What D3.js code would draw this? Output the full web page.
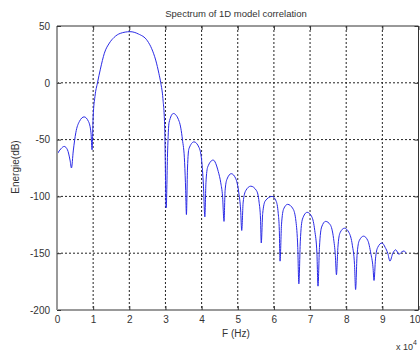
<!DOCTYPE html>
<html><head><meta charset="utf-8">
<script src="https://cdn.jsdelivr.net/npm/d3@7"></script>
<style>body{margin:0;background:#fff}svg{display:block}text{font-family:"Liberation Sans",Arial,sans-serif}</style>
</head><body><svg id="c" width="420" height="356"></svg>
<script>
const title = "Spectrum of 1D model correlation";
const xLabel = "F (Hz)";
const yLabel = "Energie(dB)";
const xTicks = [0,1,2,3,4,5,6,7,8,9,10];
const yTicks = [50,0,-50,-100,-150,-200];
// frequency in units of 1e4 Hz
const freq = [0.00,0.06,0.11,0.20,0.29,0.36,0.40,0.45,0.52,0.62,0.75,0.87,0.94,0.97,
  1.00,1.05,1.12,1.20,1.31,1.45,1.58,1.75,2.02,2.25,2.50,2.62,2.73,2.82,2.87,2.93,2.98,3.02,
  3.06,3.10,3.22,3.38,3.47,3.53,3.56,3.58,
  3.61,3.65,3.79,3.93,4.00,4.05,4.09,
  4.12,4.17,4.32,4.46,4.53,4.58,4.62,
  4.65,4.70,4.82,4.94,5.03,5.08,5.11,
  5.15,5.22,5.36,5.52,5.59,5.63,5.65,
  5.69,5.76,5.95,6.06,6.12,6.15,6.17,
  6.21,6.27,6.38,6.53,6.61,6.66,6.69,
  6.73,6.79,6.92,7.05,7.13,7.19,7.22,
  7.26,7.32,7.43,7.56,7.65,7.70,7.73,
  7.77,7.83,7.95,8.08,8.17,8.23,8.26,
  8.30,8.36,8.48,8.60,8.68,8.74,8.77,
  8.81,8.87,8.99,9.08,9.15,9.21,
  9.29,9.37,9.46,9.53,9.60,9.65];
const energy = [-63,-60,-58,-56,-59,-68,-75,-60,-44,-34,-30,-34,-44,-59,
  -30,-12,0,12,26,35,40,43.5,45,43,37,30,20,8,0,-14,-40,-110,
  -60,-35,-27,-34,-50,-70,-95,-116,
  -75,-58,-52,-57,-68,-90,-118,
  -88,-74,-68,-78,-88,-100,-122,
  -95,-85,-80,-84,-97,-112,-130,
  -105,-95,-91,-95,-105,-120,-141,
  -115,-104,-100,-104,-115,-130,-157,
  -125,-111,-107,-111,-122,-145,-177,
  -140,-120,-114,-118,-130,-150,-179,
  -145,-127,-122,-125,-137,-152,-169,
  -145,-132,-128,-132,-143,-160,-182,
  -152,-139,-135,-139,-150,-162,-174,
  -155,-145,-141,-145,-150,-157,
  -150,-147,-151,-149,-148,-150];

const svg = d3.select("#c");
svg.append("rect").attr("width",420).attr("height",356).attr("fill","#fff");
const L=57, R=418.5, T=26, B=310;
const x = d3.scaleLinear().domain([0,10]).range([L,R]);
const y = d3.scaleLinear().domain([-200,50]).range([B,T]);

// grid
const g = svg.append("g");
g.selectAll("line.vg").data(xTicks.slice(1,-1)).join("line")
  .attr("x1",d=>x(d)).attr("x2",d=>x(d)).attr("y1",T).attr("y2",B)
  .attr("stroke","#222").attr("stroke-width",1).attr("stroke-dasharray","2,2");
g.selectAll("line.hg").data(yTicks.slice(1,-1)).join("line")
  .attr("x1",L).attr("x2",R).attr("y1",d=>y(d)).attr("y2",d=>y(d))
  .attr("stroke","#222").attr("stroke-width",1).attr("stroke-dasharray","2,2");

// data line
const pts = freq.map((f,i)=>[f,energy[i]]);
svg.append("path").datum(pts)
  .attr("d", d3.line().x(d=>x(d[0])).y(d=>y(d[1])).curve(d3.curveMonotoneX))
  .attr("fill","none").attr("stroke","#2a2ae6").attr("stroke-width",1);

// axes
const fmt = d => String(d);
const axB = d3.axisBottom(x).tickValues(xTicks).tickSize(-4).tickPadding(6).tickFormat(fmt);
const axT = d3.axisTop(x).tickValues(xTicks).tickSize(-4).tickFormat("");
const axL = d3.axisLeft(y).tickValues(yTicks).tickSize(-4).tickPadding(7).tickFormat(fmt);
const axR = d3.axisRight(y).tickValues(yTicks).tickSize(-4).tickFormat("");
function style(sel, col, w){
  sel.select(".domain").attr("stroke",col).attr("stroke-width",w);
  sel.selectAll(".tick line").attr("stroke","#333");
  sel.selectAll(".tick text").attr("fill","#333").style("font-size","10px").style("font-family","'Liberation Sans',Arial,sans-serif");
}
const gB = svg.append("g").attr("transform",`translate(0,${B})`).call(axB); style(gB,"#999",2);
const gT = svg.append("g").attr("transform",`translate(0,${T})`).call(axT); style(gT,"#333",1);
const gL = svg.append("g").attr("transform",`translate(${L},0)`).call(axL); style(gL,"#999",2);
const gR = svg.append("g").attr("transform",`translate(${R},0)`).call(axR); style(gR,"#333",1);
gB.select(".domain").attr("d",`M${L},0H${R}`);
gT.select(".domain").attr("d",`M${L},0H${R}`);
gL.select(".domain").attr("d",`M0,${T}V${B}`);
gR.select(".domain").attr("d",`M0,${T}V${B}`);
// keep last x tick label inside the page
gB.selectAll(".tick text").filter(d => d === 10).attr("text-anchor","end").attr("x", 420 - R);

// texts
svg.append("text").attr("x",236).attr("y",17).attr("text-anchor","middle")
  .attr("fill","#333").style("font-size","9.5px").text(title);
svg.append("text").attr("x",236).attr("y",337).attr("text-anchor","middle")
  .attr("fill","#333").style("font-size","10px").text(xLabel);
svg.append("text").attr("transform","translate(19,167) rotate(-90)").attr("text-anchor","middle")
  .attr("fill","#333").style("font-size","10px").text(yLabel);
const ex = svg.append("text").attr("x",396).attr("y",350).attr("fill","#333").style("font-size","9px");
ex.append("tspan").text("x 10");
ex.append("tspan").attr("dy",-5).style("font-size","7px").text("4");
</script></body></html>
